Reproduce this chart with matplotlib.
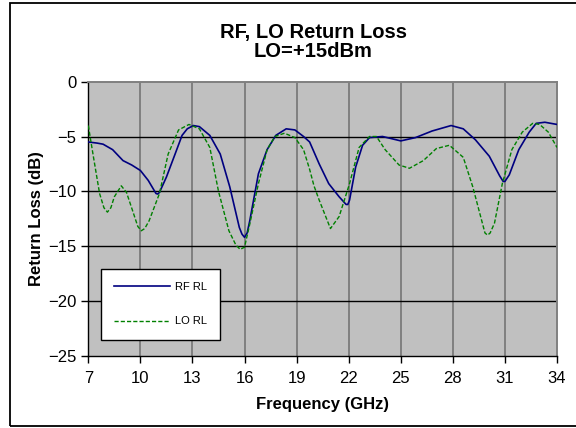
import matplotlib
matplotlib.use("Agg")
import matplotlib.pyplot as plt
from matplotlib.patches import Rectangle

plt.rcParams['font.family'] = ['Liberation Sans', 'DejaVu Sans']

# values
rf_freq = [7.0, 7.5, 7.85, 8.4, 9.0, 9.5, 10.0, 10.45, 10.9, 11.0, 11.1, 11.5,
           12.0, 12.4, 12.7, 13.05, 13.4, 14.0, 14.6, 15.15, 15.7, 15.85, 16.0,
           16.15, 16.3, 16.8, 17.3, 17.8, 18.4, 18.9, 19.4, 19.75, 20.3, 20.85,
           21.45, 21.85, 21.95, 22.05, 22.4, 22.8, 23.2, 23.95, 25.0, 25.85,
           26.8, 27.9, 28.6, 29.3, 30.1, 30.7, 30.9, 31.0, 31.25, 31.8, 32.4,
           32.8, 33.3, 34.0]
rf_rl = [-5.5, -5.6, -5.7, -6.2, -7.2, -7.6, -8.1, -9.0, -10.2, -10.25, -10.1,
         -8.7, -6.6, -4.9, -4.3, -4.0, -4.1, -4.9, -6.6, -9.6, -13.3, -13.9,
         -14.2, -13.8, -12.7, -8.4, -6.2, -4.9, -4.3, -4.4, -5.0, -5.5, -7.5,
         -9.3, -10.5, -11.2, -11.2, -10.8, -7.8, -5.8, -5.1, -5.0, -5.4, -5.1,
         -4.5, -4.0, -4.3, -5.3, -6.8, -8.6, -9.1, -9.1, -8.5, -6.2, -4.6,
         -3.8, -3.7, -3.9]

lo_freq = [7.0, 7.3, 7.65, 7.9, 8.1, 8.3, 8.5, 8.9, 9.2, 9.6, 9.85, 10.05,
           10.25, 10.5, 11.1, 11.6, 12.2, 12.8, 13.4, 14.0, 14.5, 15.1, 15.5,
           15.75, 16.0, 16.3, 16.8, 17.3, 17.75, 18.3, 18.9, 19.4, 19.75, 20.0,
           20.3, 20.95, 21.45, 22.05, 22.6, 23.2, 23.6, 24.1, 24.9, 25.5, 26.3,
           27.05, 27.8, 28.6, 29.15, 29.6, 29.85, 30.0, 30.15, 30.4, 30.85,
           31.4, 32.0, 32.6, 33.0, 33.5, 34.0]
lo_rl = [-4.0, -6.9, -10.2, -11.5, -11.9, -11.5, -10.5, -9.5, -10.1, -12.0,
         -13.2, -13.6, -13.4, -12.7, -10.2, -6.6, -4.4, -3.9, -4.3, -6.0,
         -10.0, -13.6, -14.9, -15.3, -15.1, -13.0, -9.3, -6.2, -5.0, -4.7,
         -5.1, -6.2, -8.0, -9.5, -10.8, -13.4, -12.3, -9.3, -6.0, -5.0, -5.0,
         -6.2, -7.6, -7.9, -7.2, -6.1, -5.8, -6.9, -9.6, -12.3, -13.8, -14.0,
         -13.8, -12.9, -9.3, -6.2, -4.6, -3.8, -3.9, -4.6, -6.0]

x_ticks = [7, 10, 13, 16, 19, 22, 25, 28, 31, 34]
y_ticks = [0, -5, -10, -15, -20, -25]

W, H = 576, 428
fig = plt.figure(figsize=(W / 100, H / 100), dpi=100)

# chart area frame (right edge runs past the picture)
fig.patches.append(Rectangle((9.5 / W, 1 - 426 / H), 1.2, (426 - 3) / H,
                             transform=fig.transFigure, fill=False,
                             edgecolor='black', linewidth=1.3))

ax = fig.add_axes([88.3 / W, 1 - 355.7 / H, (557 - 88.3) / W, (355.7 - 81.7) / H])
ax.set_facecolor('#c0c0c0')

ax.plot(rf_freq, rf_rl, color='#000080', linewidth=1.2, label='RF RL', zorder=3)
ax.plot(lo_freq, lo_rl, color='#008000', linewidth=1.0, linestyle=(0, (3, 1.5)),
        label='LO RL', zorder=3)

ax.set_xlim(7, 34)
ax.set_ylim(-25, 0)
ax.set_xticks(x_ticks)
ax.set_yticks(y_ticks)
ax.tick_params(labelsize=12, direction='out', length=5, width=1, color='black')
ax.tick_params(axis='x', pad=6)

for x in x_ticks[1:-1]:
    ax.axvline(x, color='#808080', linewidth=1.4, zorder=1)
for y in y_ticks[1:-1]:
    ax.axhline(y, color='black', linewidth=1.0, zorder=2)

for side in ('top', 'right'):
    ax.spines[side].set_color('#808080')
    ax.spines[side].set_linewidth(1.4)
for side in ('left', 'bottom'):
    ax.spines[side].set_color('black')
    ax.spines[side].set_linewidth(1.0)

ax.set_xlabel('Frequency (GHz)', fontsize=12, fontweight='bold', labelpad=8)
ax.set_ylabel('Return Loss (dB)', fontsize=12, fontweight='bold', labelpad=3)

fig.text(313 / W, 1 - 42 / H, 'RF, LO Return Loss\nLO=+15dBm', ha='center',
         va='center', fontsize=14.5, fontweight='bold', linespacing=1.05)

leg = ax.legend(loc='upper left', bbox_to_anchor=(100.7 / W, 1 - 268.7 / H),
                bbox_transform=fig.transFigure, fontsize=8, frameon=True,
                fancybox=False, framealpha=1, edgecolor='black',
                handlelength=5.0, handletextpad=0.5, labelspacing=2.2,
                borderpad=1.2, borderaxespad=0)
leg.get_frame().set_linewidth(1.0)

fig.savefig('out.png', dpi=100)
